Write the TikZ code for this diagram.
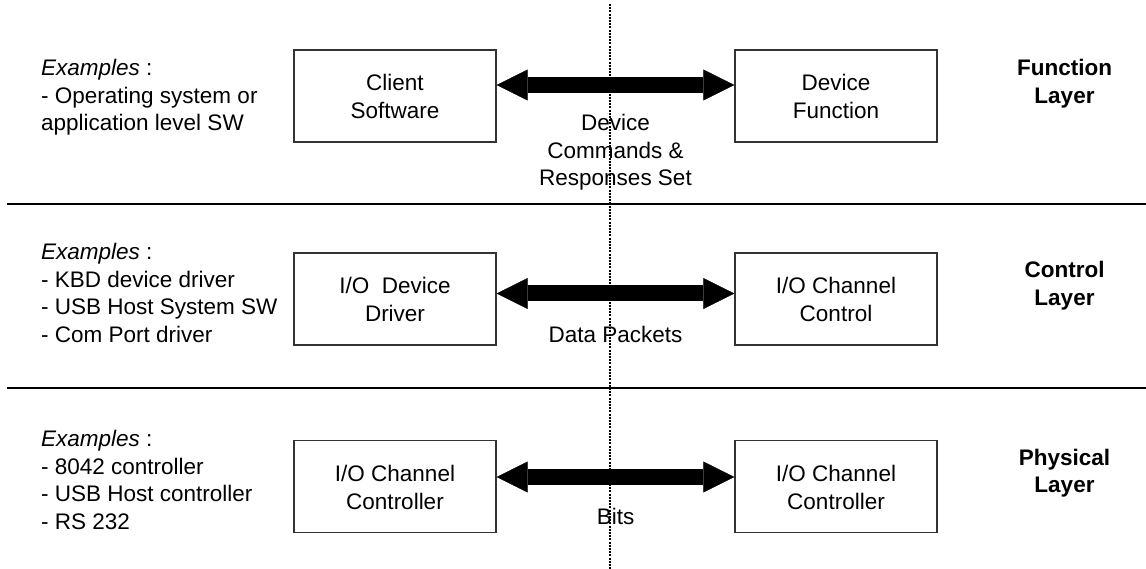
\documentclass[tikz,border=0pt]{standalone}
\usepackage{fontspec}
\setmainfont{Liberation Sans}
\usetikzlibrary{arrows.meta}
\newcommand{\mytab}[2]{\begin{tabular}[t]{@{}#1@{}}#2\end{tabular}}
\begin{document}
\begin{tikzpicture}[x=1pt,y=-1pt,
  every node/.style={font=\fontsize{22.5}{27.5}\selectfont, inner sep=0pt},
  box/.style={draw=black!80, line width=1.3pt, rectangle, minimum width=202pt, minimum height=92pt, text height=19pt, text depth=29pt},
  layer/.style={font=\fontsize{22.5}{27.5}\selectfont\bfseries, anchor=base},
  examples/.style={anchor=base west},
  bigarrow/.style={line width=16pt, {Triangle[length=31pt,width=31pt,line width=0.5pt]}-{Triangle[length=31pt,width=31pt,line width=0.5pt]}},
  arrowlabel/.style={midway, anchor=base},
  divider/.style={line width=1.3pt, black},
  dotline/.style={line width=1.1pt, dash pattern=on 2pt off 1.2pt}
]
\useasboundingbox (0,0) rectangle (1146,569);

% dotted vertical separator
\coordinate (dt) at (610,4);
\coordinate (db) at (610,569);
\draw[dotline] (dt) -- (db);

% horizontal layer separators
\coordinate (h1a) at (7,204);
\coordinate (h1b) at (1146,204);
\coordinate (h2a) at (7,388);
\coordinate (h2b) at (1146,388);
\draw[divider] (h1a) -- (h1b);
\draw[divider] (h2a) -- (h2b);

% examples
\node[examples] (ex1) at (41,75.6) {\mytab{l}{\textit{Examples} :\\- Operating system or\\application level SW}};
\node[examples] (ex2) at (41,260) {\mytab{l}{\textit{Examples} :\\- KBD device driver\\- USB Host System SW\\- Com Port driver}};
\node[examples] (ex3) at (41,446.5) {\mytab{l}{\textit{Examples} :\\- 8042 controller\\- USB Host controller\\- RS 232}};

% boxes
\node[box] (c1) at (395,96) {\mytab{c}{Client\\Software}};
\node[box] (d1) at (836,96) {\mytab{c}{Device\\Function}};
\node[box] (c2) at (395,299) {\mytab{c}{I/O\ \ Device\\Driver}};
\node[box] (d2) at (836,299) {\mytab{c}{I/O Channel\\Control}};
\node[box] (c3) at (395,486.5) {\mytab{c}{I/O Channel\\Controller}};
\node[box] (d3) at (836,486.5) {\mytab{c}{I/O Channel\\Controller}};

% layer names
\node[layer] (l1) at (1064.5,75.6) {\mytab{c}{Function\\Layer}};
\node[layer] (l2) at (1064.5,278) {\mytab{c}{Control\\Layer}};
\node[layer] (l3) at (1064.5,465) {\mytab{c}{Physical\\Layer}};

% arrows
\draw[bigarrow] ([yshift=11pt]c1.east) -- ([yshift=11pt]d1.west)
  node[arrowlabel, yshift=-46pt] (m1) {\mytab{c}{Device\\Commands \&\\Responses Set}};
\draw[bigarrow] ([yshift=5.5pt]c2.east) -- ([yshift=5.5pt]d2.west)
  node[arrowlabel, yshift=-49pt] (m2) {Data Packets};
\draw[bigarrow] ([yshift=9.5pt]c3.east) -- ([yshift=9.5pt]d3.west)
  node[arrowlabel, yshift=-47pt] (m3) {Bits};
\end{tikzpicture}
\end{document}
